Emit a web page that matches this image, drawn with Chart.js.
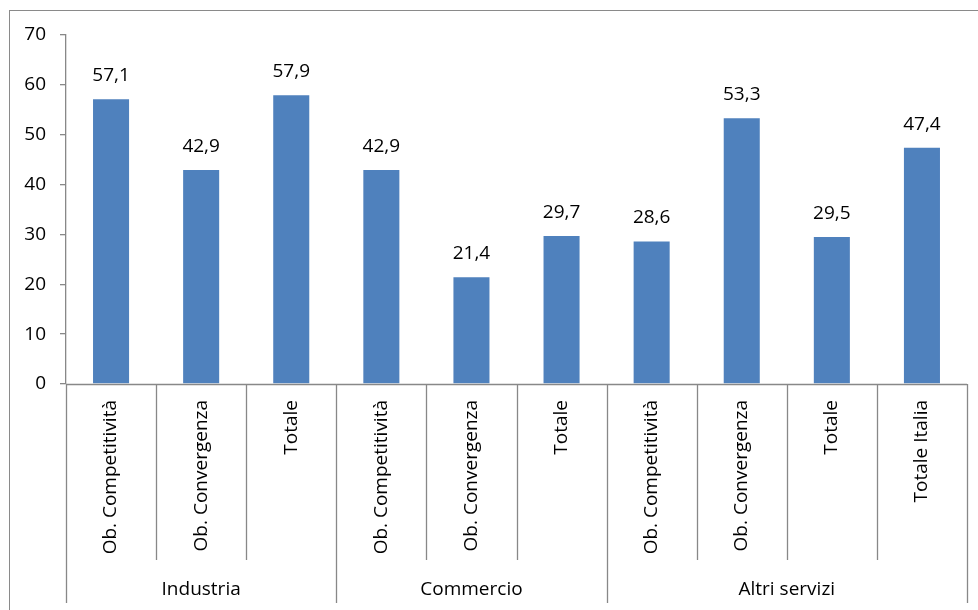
<!DOCTYPE html>
<html>
<head>
<meta charset="utf-8">
<script src="https://cdn.jsdelivr.net/npm/chart.js@4/dist/chart.umd.min.js"></script>
<style>
  html, body { margin: 0; padding: 0; background: #fff; overflow: hidden; }
  #wrap { position: relative; width: 978px; height: 610px; }
  #frame { position: absolute; left: 9px; top: 10px; width: 1000px; height: 700px;
           border-left: 1.5px solid #8a8a8a; border-top: 1.5px solid #8a8a8a; }
  canvas { position: absolute; left: 0; top: 0; }
</style>
</head>
<body>
<div id="wrap">
  <div id="frame"></div>
  <canvas id="chart" width="978" height="610"></canvas>
</div>
<script>
// Categories, values and grouping
const categories = ['Ob. Competitività', 'Ob. Convergenza', 'Totale',
                    'Ob. Competitività', 'Ob. Convergenza', 'Totale',
                    'Ob. Competitività', 'Ob. Convergenza', 'Totale', 'Totale Italia'];
const values = [57.1, 42.9, 57.9, 42.9, 21.4, 29.7, 28.6, 53.3, 29.5, 47.4];
const groups = ['Industria', 'Commercio', 'Altri servizi'];
const groupSizes = [3, 3, 4];
const yTicks = [0, 10, 20, 30, 40, 50, 60, 70];

const axisColor = '#888888';
const fontSize = 19;
const font = fontSize + "px 'Open Sans', sans-serif";

Chart.defaults.font.family = "'Open Sans', sans-serif";
Chart.defaults.font.size = fontSize;
Chart.defaults.color = '#000';

// Numbers above the bars, with a decimal comma
const valueLabels = {
  id: 'valueLabels',
  afterDatasetsDraw(chart) {
    const ctx = chart.ctx;
    const meta = chart.getDatasetMeta(0);
    ctx.save();
    ctx.font = font;
    ctx.fillStyle = '#000';
    ctx.textAlign = 'center';
    ctx.textBaseline = 'alphabetic';
    meta.data.forEach((bar, i) => {
      ctx.fillText(values[i].toFixed(1).replace('.', ','), bar.x, bar.y - 18);
    });
    ctx.restore();
  }
};

// Category separators, group separators and group names under the axis
const groupAxis = {
  id: 'groupAxis',
  afterDraw(chart) {
    const { ctx, chartArea, scales: { x } } = chart;
    const n = categories.length;
    const edge = i => i === 0 ? chartArea.left
      : i === n ? chartArea.right
      : (x.getPixelForValue(i - 1) + x.getPixelForValue(i)) / 2;
    const base = chartArea.bottom;
    const shortEnd = base + 176;
    const longEnd = base + 219;

    const bounds = [0];
    groupSizes.forEach(s => bounds.push(bounds[bounds.length - 1] + s));

    ctx.save();
    ctx.strokeStyle = axisColor;
    ctx.lineWidth = 1.3;
    ctx.beginPath();
    ctx.moveTo(chartArea.left, Math.round(base) + 0.5);
    ctx.lineTo(chartArea.right, Math.round(base) + 0.5);
    for (let i = 0; i <= n; i++) {
      const px = Math.round(edge(i)) + 0.5;
      ctx.moveTo(px, base);
      ctx.lineTo(px, bounds.includes(i) ? longEnd : shortEnd);
    }
    ctx.stroke();

    ctx.font = font;
    ctx.fillStyle = '#000';
    ctx.textAlign = 'center';
    ctx.textBaseline = 'alphabetic';
    groups.forEach((g, k) => {
      const cx = (edge(bounds[k]) + edge(bounds[k + 1])) / 2;
      ctx.fillText(g, cx, base + 211);
    });
    ctx.restore();
  }
};

new Chart(document.getElementById('chart'), {
  type: 'bar',
  data: {
    labels: categories,
    datasets: [{
      data: values,
      backgroundColor: '#4F81BD',
      categoryPercentage: 0.8,
      barPercentage: 0.5
    }]
  },
  options: {
    responsive: false,
    animation: false,
    layout: { padding: { left: 0, top: 35, right: 11, bottom: 0 } },
    plugins: { legend: { display: false }, tooltip: { enabled: false } },
    scales: {
      x: {
        offset: true,
        grid: { display: false, drawTicks: false },
        border: { display: false },
        ticks: { autoSkip: false, minRotation: 90, maxRotation: 90, padding: 16 },
        afterFit: s => { s.height = 226; }
      },
      y: {
        min: 0,
        max: 70,
        afterBuildTicks: s => { s.ticks = yTicks.map(v => ({ value: v })); },
        grid: { drawOnChartArea: false, tickLength: 6, color: axisColor, lineWidth: 1.3 },
        border: { color: axisColor, width: 1.3 },
        ticks: { padding: 14 },
        afterFit: s => { s.width = 66; }
      }
    }
  },
  plugins: [valueLabels, groupAxis]
});
</script>
</body>
</html>
